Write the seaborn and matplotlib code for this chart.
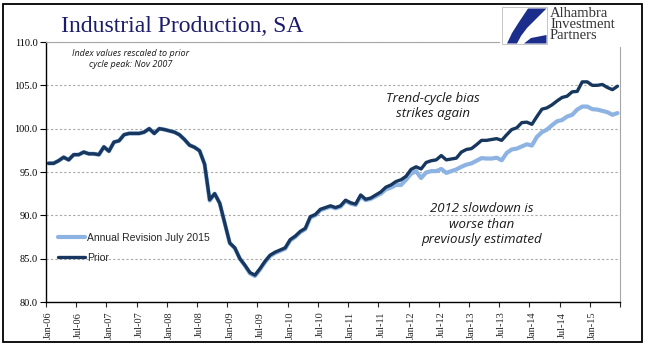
import numpy as np
import pandas as pd
import matplotlib
matplotlib.use("Agg")
import matplotlib.pyplot as plt
from matplotlib.patches import Rectangle, Polygon
import seaborn as sns

# monthly index values, Jan 2006 - Jun 2015 (Nov 2007 = 100)
start_month = "2006-01"
prior = [
    96.0, 96.0, 96.3, 96.7, 96.4, 97.0, 97.0, 97.3, 97.1, 97.1, 97.0, 97.9,
    97.4, 98.45, 98.6, 99.3, 99.45, 99.45, 99.45, 99.6, 100.0, 99.45, 100.0, 99.9,
    99.75, 99.6, 99.3, 98.75, 98.1, 97.85, 97.45, 95.9, 91.8, 92.5, 91.4, 89.1,
    86.8, 86.25, 85.0, 84.25, 83.4, 83.1, 83.85, 84.7, 85.4, 85.75, 86.0, 86.25,
    87.2, 87.6, 88.15, 88.5, 89.85, 90.1, 90.7, 90.9, 91.1, 90.9, 91.1, 91.75,
    91.45, 91.3, 92.35, 91.85, 92.0, 92.35, 92.7, 93.25, 93.5, 93.9, 94.1, 94.5,
    95.3, 95.6, 95.35, 96.1, 96.3, 96.4, 96.9, 96.4, 96.5, 96.6, 97.3, 97.6,
    97.7, 98.15, 98.65, 98.65, 98.75, 98.85, 98.65, 99.3, 99.9, 100.1, 100.7, 100.75,
    100.5, 101.4, 102.25, 102.4, 102.75, 103.2, 103.6, 103.75, 104.25, 104.3, 105.4, 105.4,
    105.0, 105.0, 105.1, 104.75, 104.5, 104.9,
]
revision = [
    96.0, 96.0, 96.3, 96.7, 96.4, 97.0, 97.0, 97.3, 97.1, 97.1, 97.0, 97.9,
    97.4, 98.45, 98.6, 99.3, 99.45, 99.45, 99.45, 99.6, 100.0, 99.45, 100.0, 99.9,
    99.75, 99.6, 99.3, 98.75, 98.1, 97.85, 97.45, 95.9, 91.7, 92.5, 91.4, 89.1,
    86.8, 86.2, 85.0, 84.2, 83.3, 83.0, 83.75, 84.6, 85.3, 85.65, 85.9, 86.15,
    87.1, 87.5, 88.05, 88.4, 89.75, 90.0, 90.6, 90.8, 91.0, 90.8, 91.0, 91.65,
    91.35, 91.2, 92.2, 91.75, 91.9, 92.2, 92.5, 93.0, 93.2, 93.5, 93.5, 94.1,
    94.8, 95.1, 94.3, 94.95, 95.1, 95.1, 95.35, 94.9, 95.1, 95.3, 95.6, 95.85,
    96.0, 96.3, 96.6, 96.55, 96.55, 96.65, 96.35, 97.2, 97.6, 97.7, 97.95, 98.2,
    98.05, 99.05, 99.6, 99.9, 100.4, 100.85, 101.0, 101.4, 101.6, 102.2, 102.55, 102.55,
    102.25, 102.2, 102.05, 101.9, 101.6, 101.8,
]
series_names = ["Annual Revision July 2015", "Prior"]
series_colors = ["#8db3e2", "#17375e"]
y_ticks = [80, 85, 90, 95, 100, 105, 110]

months = pd.date_range(start_month, periods=len(prior), freq="MS")
df = pd.DataFrame({"pos": np.arange(len(months)),
                   "Annual Revision July 2015": revision,
                   "Prior": prior})
long = df.melt(id_vars="pos", var_name="series", value_name="index")

sns.set_style("white")
plt.rcParams["font.family"] = ["Liberation Serif", "DejaVu Serif"]

W, H = 660, 358
def fx(x):
    return x / W
def fy(y):
    return 1 - y / H

fig = plt.figure(figsize=(6.6, 3.58), dpi=100)
ax = fig.add_axes([fx(46), fy(302), (620 - 46) / W, (302 - 42) / H])

for name, color, lw in zip(series_names, series_colors, [3.0, 2.4]):
    sns.lineplot(data=long[long.series == name], x="pos", y="index",
                 color=color, lw=lw, label=name, ax=ax)

ax.set_xlim(-0.5, len(months) - 0.5)
ax.set_ylim(80, 110)
ax.set_xlabel("")
ax.set_ylabel("")

ax.set_yticks(y_ticks)
ax.set_yticklabels([f"{v:.1f}" for v in y_ticks], fontsize=7.5)
ax.tick_params(axis="y", direction="out", length=4, width=0.8, pad=2, colors="black", left=True)

label_pos = np.arange(0, len(months), 6)
ax.set_xticks(label_pos)
ax.set_xticklabels([months[i].strftime("%b-%y") for i in label_pos], rotation=90, fontsize=7.5)
ax.set_xticks(np.arange(-0.5, len(months), 6), minor=True)
ax.tick_params(axis="x", which="major", length=0, pad=7)
ax.tick_params(axis="x", which="minor", direction="out", length=3.5, width=0.8, bottom=True)

ax.yaxis.grid(True, linestyle=(0, (2, 2)), color="#a6a6a6", linewidth=0.8)
ax.xaxis.grid(False)
for side in ["left", "bottom"]:
    ax.spines[side].set_color("black")
    ax.spines[side].set_linewidth(1.0)
for side in ["top", "right"]:
    ax.spines[side].set_color("#a6a6a6")
    ax.spines[side].set_linewidth(0.8)

ax.legend(loc="upper left", bbox_to_anchor=(0.021, 0.266), frameon=False,
          prop={"family": "Liberation Sans", "size": 7.5},
          handlelength=2.6, handletextpad=0.15, labelspacing=0.95,
          borderpad=0, borderaxespad=0)

fig.text(fx(182), fy(32), "Industrial Production, SA", fontsize=17,
         color="#1b1b6b", ha="center", va="baseline")

note = dict(family="Open Sans", style="italic", color="#1a1a1a", ha="center", va="center")
fig.text(fx(131), fy(59), "Index values rescaled to prior\ncycle peak: Nov 2007",
         fontsize=6.5, linespacing=1.35, **note)
fig.text(fx(433), fy(106), "Trend-cycle bias\nstrikes again",
         fontsize=9.5, linespacing=1.2, **note)
fig.text(fx(482), fy(224), "2012 slowdown is\nworse than\npreviously estimated",
         fontsize=9.5, linespacing=1.2, **note)

# logo area
fig.patches.append(Rectangle((fx(500), fy(47)), fx(641) - fx(500), fy(4.5) - fy(47),
                             transform=fig.transFigure, facecolor="white", edgecolor="none"))
fig.patches.append(Rectangle((fx(502), fy(43.5)), fx(547) - fx(502), fy(7) - fy(43.5),
                             transform=fig.transFigure, facecolor="white",
                             edgecolor="#bdbdbd", linewidth=0.6))
logo_shape = [(528, 8.5), (546.5, 8.5), (536, 19), (527, 28), (521, 36), (517, 43.5),
              (507, 43.5), (512, 33), (519, 22)]
fig.patches.append(Polygon([(fx(x), fy(y)) for x, y in logo_shape], closed=True,
                           transform=fig.transFigure, facecolor="#1c2e8c", edgecolor="none"))
logo_low = [(524, 43.5), (531, 38), (546.5, 35), (546.5, 43.5)]
fig.patches.append(Polygon([(fx(x), fy(y)) for x, y in logo_low], closed=True,
                           transform=fig.transFigure, facecolor="#1c2e8c", edgecolor="none"))
fig.text(fx(550), fy(7), "Alhambra\nInvestment\nPartners", fontsize=10.5,
         linespacing=0.8, color="#333333", ha="left", va="top")

fig.patches.append(Rectangle((fx(3), fy(342)), fx(642) - fx(3), fy(4) - fy(342),
                             transform=fig.transFigure, fill=False,
                             edgecolor="black", linewidth=1.3))

fig.savefig("out.png", dpi=100)
